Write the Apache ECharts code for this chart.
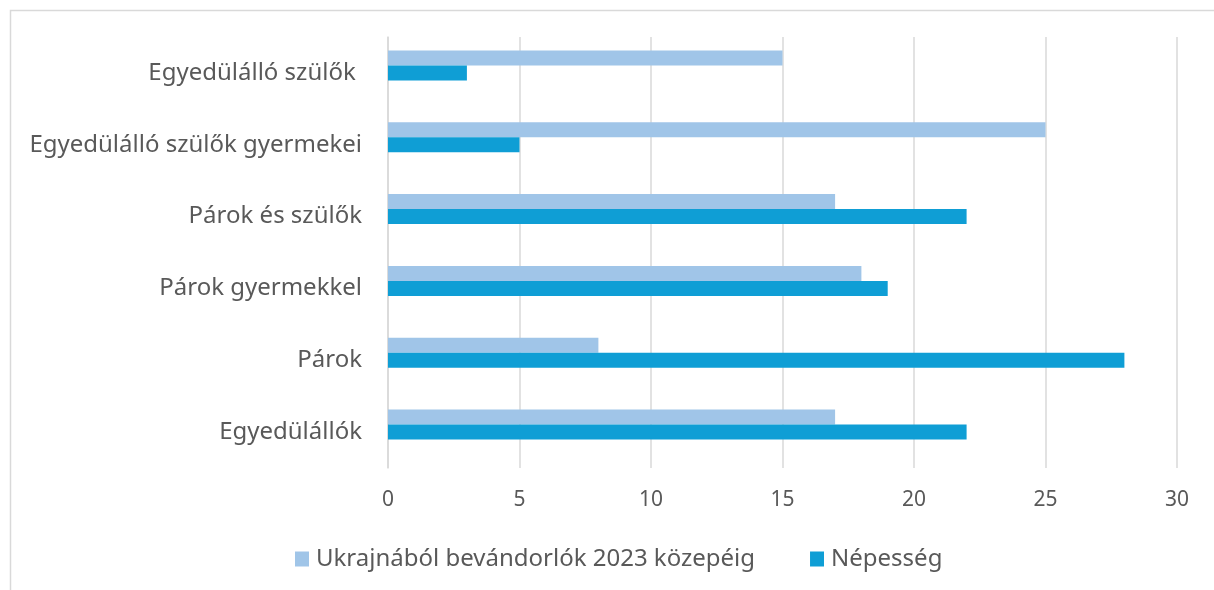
<!DOCTYPE html>
<html style="height: 100%">
   <head>
       <meta charset="utf-8">
   </head>
   <body style="height: 100%;margin: 0">
       <div id="container" style="height: 590px; width:1214px;"></div>
       <script type="text/javascript" src="https://cdn.jsdelivr.net/npm/echarts@6/dist/echarts.min.js"></script>
       <script type="text/javascript">

// categories listed bottom -> top
var categories = ['Egyedülállók', 'Párok', 'Párok gyermekkel', 'Párok és szülők', 'Egyedülálló szülők gyermekei', 'Egyedülálló szülők '];
var seriesNames = ['Ukrajnából bevándorlók 2023 közepéig', 'Népesség'];
var ukrajna = [17, 8, 18, 17, 25, 15];
var nepesseg = [22, 28, 19, 22, 5, 3];
var xTicks = [0, 5, 10, 15, 20, 25, 30];

var dom = document.getElementById("container");
var myChart = echarts.init(dom);
var font = 'Noto Sans';
var textColor = '#595959';

var option = {
    animation: false,
    backgroundColor: '#fff',
    graphic: [{
        type: 'rect',
        left: 8, top: 8,
        shape: { width: 1230, height: 600 },
        style: { fill: 'none', stroke: '#d9d9d9', lineWidth: 1.5 },
        z: -1
    }],
    grid: { left: 388, right: 37, top: 37, bottom: 122 },
    legend: {
        data: seriesNames,
        left: 290,
        top: 542,
        itemWidth: 14,
        itemHeight: 15,
        itemGap: 55,
        icon: 'rect',
        textStyle: { fontFamily: font, fontSize: 24, color: textColor, padding: [0, 0, 0, 2] }
    },
    xAxis: {
        type: 'value',
        min: xTicks[0],
        max: xTicks[xTicks.length - 1],
        interval: 5,
        axisLine: { show: false },
        axisTick: { show: false },
        axisLabel: { fontFamily: font, fontSize: 21, color: textColor, margin: 22 },
        splitLine: { lineStyle: { color: '#d9d9d9', width: 1.5 } }
    },
    yAxis: {
        type: 'category',
        data: categories,
        axisLine: { lineStyle: { color: '#d9d9d9', width: 1.5 } },
        axisTick: { show: false },
        axisLabel: { fontFamily: font, fontSize: 24, color: textColor, margin: 26 }
    },
    series: [
        { name: seriesNames[0], type: 'bar', data: ukrajna, barWidth: 15, barGap: 0, itemStyle: { color: '#a0c5e8' } },
        { name: seriesNames[1], type: 'bar', data: nepesseg, barWidth: 15, barGap: 0, itemStyle: { color: '#0f9ed5' } },
        // empty slot, like the spreadsheet's third series
        { name: 'empty', type: 'bar', data: [], barWidth: 15, barGap: 0 }
    ]
};

myChart.setOption(option, true);

       </script>
   </body>
</html>
